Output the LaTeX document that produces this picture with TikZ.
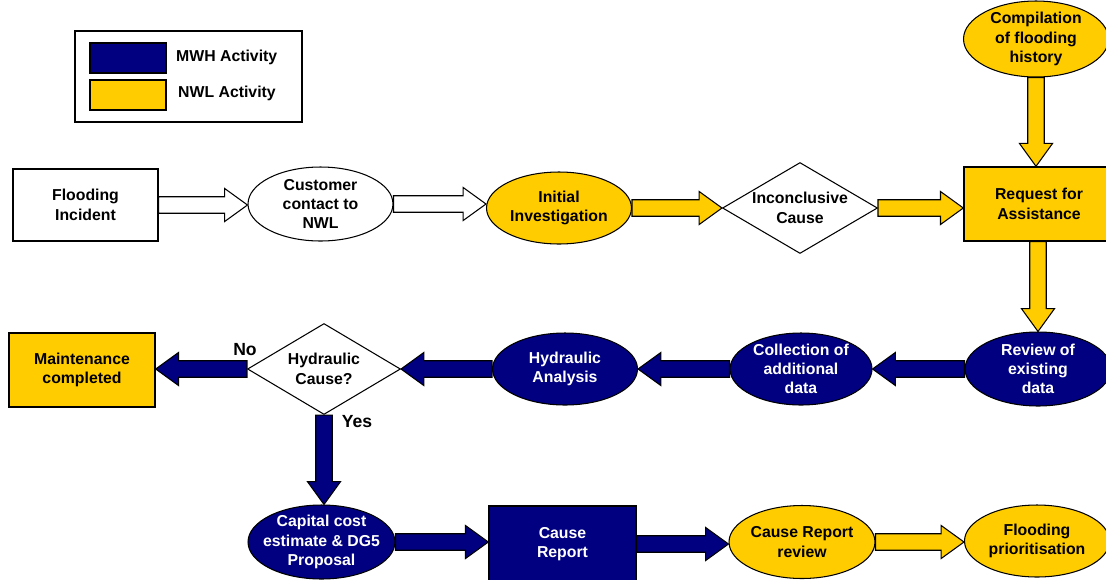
\documentclass[tikz,border=0pt]{standalone}
\usepackage{fontspec}
\setmainfont{Liberation Sans}
\usetikzlibrary{shapes.geometric, calc, backgrounds}

\definecolor{mwhblue}{RGB}{0,0,128}
\definecolor{nwlyellow}{RGB}{255,204,0}

\newcommand{\flowfont}{\fontsize{9}{11}\selectfont\bfseries}
\newcommand{\fashaft}{4.7pt}
\newcommand{\fahead}{9.4pt}
\newcommand{\falen}{13pt}

% block arrow from #2 to #3, filled with #1
\newcommand{\fatarrow}[3][nwlyellow]{%
    \coordinate (fa) at (#2);
    \coordinate (fb) at (#3);
    \coordinate (fc) at ($(fb)!\falen!(fa)$);
    \draw[arrowbody, fill=#1]
        ($(fa)!\fashaft!90:(fb)$) -- ($(fc)!\fashaft!90:(fb)$) -- ($(fc)!\fahead!90:(fb)$)
        -- (fb) -- ($(fc)!\fahead!-90:(fb)$) -- ($(fc)!\fashaft!-90:(fb)$)
        -- ($(fa)!\fashaft!-90:(fb)$) -- cycle;}

\tikzset{
    box/.style={rectangle, draw, line width=0.8pt, align=center, inner sep=0pt, font=\flowfont},
    oval/.style={ellipse, draw, line width=0.6pt, align=center, inner sep=0pt, font=\flowfont},
    decision/.style={diamond, aspect=1.7, draw, line width=0.6pt, fill=white, align=center, inner sep=0pt, font=\flowfont},
    mwh/.style={fill=mwhblue, text=white},
    nwl/.style={fill=nwlyellow},
    swatch/.style={rectangle, draw, line width=0.8pt, minimum width=1.52cm, minimum height=0.6cm},
    keytext/.style={anchor=west, font=\flowfont},
    answer/.style={font=\fontsize{10}{12}\selectfont\bfseries},
    arrowbody/.style={draw=black, line width=0.6pt, line join=miter},
}

\begin{document}
\begin{tikzpicture}[x=0.02cm, y=-0.02cm]
    \useasboundingbox (0,0) rectangle (1106,579);

    % legend
    \node[draw, line width=0.8pt, minimum width=4.54cm, minimum height=1.82cm] (legend) at (188.5,76.5) {};
    \node[swatch, mwh] (mwhkey) at (128,58) {};
    \node[swatch, nwl] (nwlkey) at (128,95) {};
    \node[keytext] (mwhtext) at (170,57) {MWH Activity};
    \node[keytext] (nwltext) at (172,93) {NWL Activity};

    % top row
    \node[box, fill=white, minimum width=2.9cm, minimum height=1.44cm] (incident) at (85.5,205) {Flooding\\Incident};
    \node[oval, fill=white, minimum width=2.9cm, minimum height=1.48cm] (contact) at (320.5,204) {Customer\\contact to\\NWL};
    \node[oval, nwl, minimum width=2.9cm, minimum height=1.44cm] (initial) at (559,208) {Initial\\Investigation};
    \node[decision, minimum width=3.1cm, minimum height=1.82cm] (inconcl) at (800,208) {Inconclusive\\Cause};
    \node[box, nwl, minimum width=3.0cm, minimum height=1.48cm] (request) at (1039,204) {Request for\\Assistance};
    \node[oval, nwl, minimum width=2.9cm, minimum height=1.52cm] (history) at (1036,39) {Compilation\\of flooding\\history};

    % middle row
    \node[oval, mwh, minimum width=2.92cm, minimum height=1.48cm] (review) at (1038,369) {Review of\\existing\\data};
    \node[oval, mwh, minimum width=2.84cm, minimum height=1.44cm] (collect) at (801,369) {Collection of\\additional\\data};
    \node[oval, mwh, minimum width=2.9cm, minimum height=1.44cm] (hydanalysis) at (565,369) {Hydraulic\\Analysis};
    \node[decision, minimum width=3.06cm, minimum height=1.82cm] (hydcause) at (324,369) {Hydraulic\\Cause?};
    \node[box, nwl, minimum width=2.92cm, minimum height=1.48cm] (maint) at (82,370) {Maintenance\\completed};
    \node[answer] (nolabel) at (245,350) {No};
    \node[answer] (yeslabel) at (357,422) {Yes};

    % bottom row
    \node[oval, mwh, inner sep=-6pt, minimum width=2.94cm, minimum height=1.48cm] (capital) at (321.5,542) {Capital cost\\estimate \& DG5\\Proposal};
    \node[box, mwh, minimum width=2.94cm, minimum height=1.52cm] (causerep) at (562.5,544) {Cause\\Report};
    \node[oval, nwl, minimum width=2.92cm, minimum height=1.46cm] (crreview) at (802,542) {Cause Report\\review};
    \node[oval, nwl, minimum width=2.9cm, minimum height=1.44cm] (prioritise) at (1037,541) {Flooding\\prioritisation};

    \begin{scope}[on background layer]
        \fatarrow[white]{incident.east}{contact.west |- incident.east}
        \fatarrow[white]{contact.east}{initial.west |- contact.east}
        \fatarrow{initial.east}{inconcl.west}
        \fatarrow{inconcl.east}{request.west |- inconcl.east}
        \fatarrow{history.south}{request.north -| history.south}
        \fatarrow{request.south -| review.north}{review.north}
        \fatarrow[mwhblue]{review.west}{collect.east}
        \fatarrow[mwhblue]{collect.west}{hydanalysis.east}
        \fatarrow[mwhblue]{hydanalysis.west}{hydcause.east}
        \fatarrow[mwhblue]{hydcause.west}{maint.east |- hydcause.west}
        \fatarrow[mwhblue]{hydcause.south}{capital.north -| hydcause.south}
        \fatarrow[mwhblue]{capital.east}{causerep.west |- capital.east}
        \fatarrow[mwhblue]{causerep.east}{crreview.west |- causerep.east}
        \fatarrow{crreview.east}{prioritise.west |- crreview.east}
    \end{scope}
\end{tikzpicture}
\end{document}
